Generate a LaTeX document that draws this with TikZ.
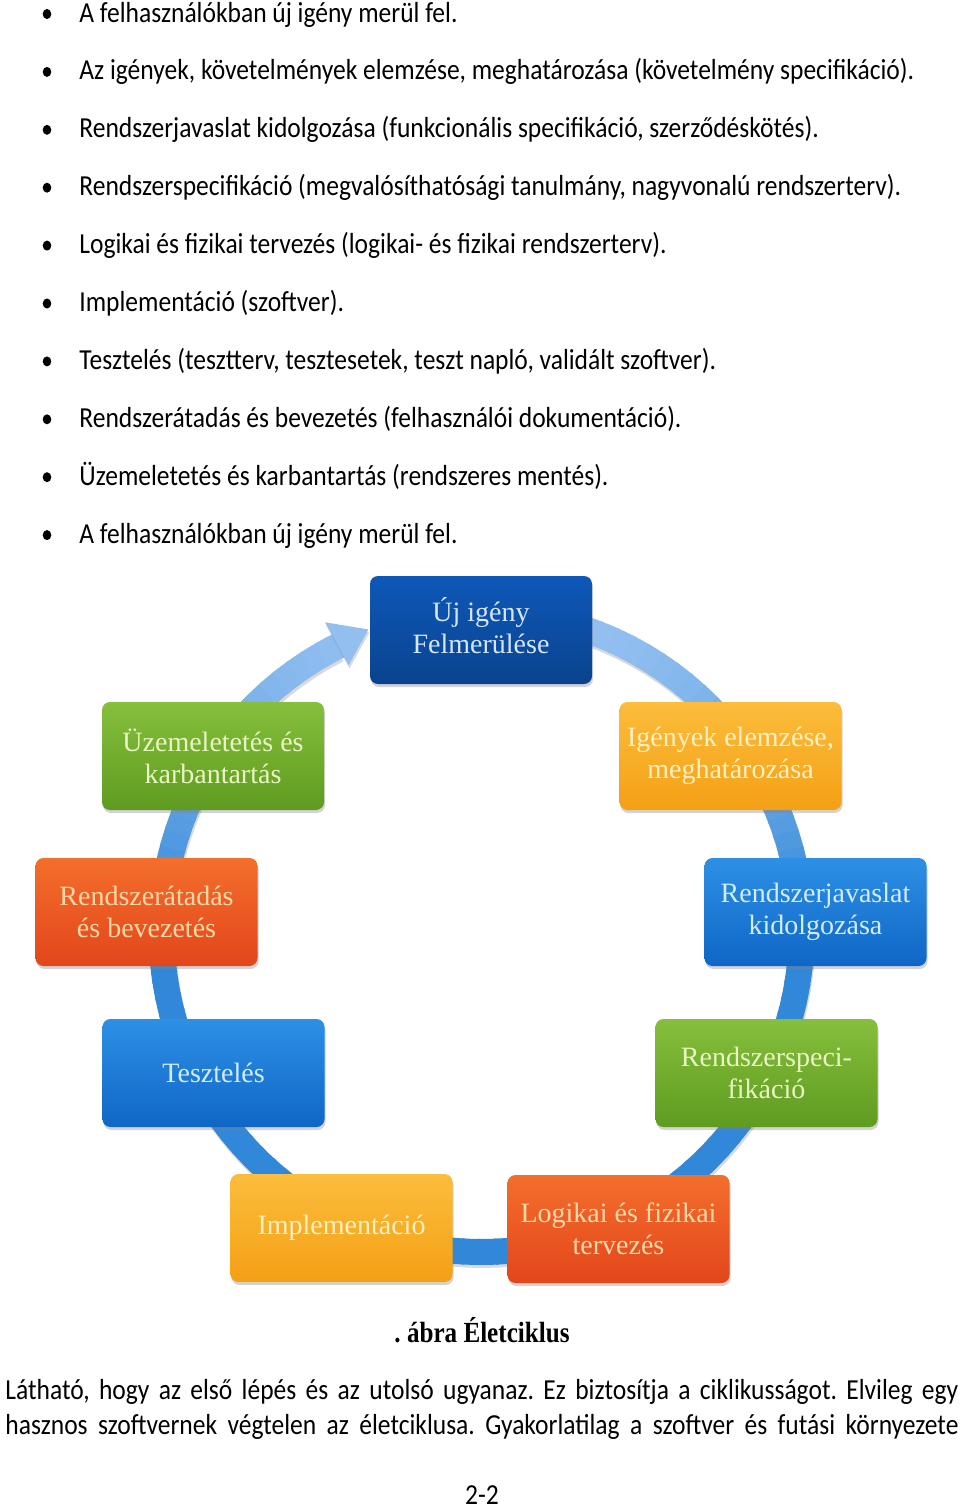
\documentclass[tikz,border=0pt]{standalone}
\usepackage{fontspec}
\setmainfont{Liberation Serif}
\newfontfamily\bodyfont{Carlito}[FakeStretch=0.88]
\newfontfamily\capfont{Liberation Serif}[FakeStretch=0.86]
\usetikzlibrary{shadows,calc}
\frenchspacing
\definecolor{ringlight}{HTML}{92BFF0}
\definecolor{ringdark}{HTML}{3288D8}
\definecolor{navyT}{HTML}{0E58B8}
\definecolor{navyB}{HTML}{0A438F}
\definecolor{navyTxt}{HTML}{D5E6FF}
\definecolor{greenT}{HTML}{86BF3C}
\definecolor{greenB}{HTML}{5E9B20}
\definecolor{greenTxt}{HTML}{EAF6C4}
\definecolor{orangeT}{HTML}{FBBD3C}
\definecolor{orangeB}{HTML}{F4A015}
\definecolor{orangeTxt}{HTML}{FFF0C2}
\definecolor{redT}{HTML}{F46E2C}
\definecolor{redB}{HTML}{E2461B}
\definecolor{redTxt}{HTML}{FFD8A8}
\definecolor{blueT}{HTML}{2D90E5}
\definecolor{blueB}{HTML}{0F66C6}
\definecolor{blueTxt}{HTML}{D2ECFF}
\begin{document}
\begin{tikzpicture}[x=0.5pt,y=-0.5pt,
  stage/.style={rounded corners=4pt, minimum width=111pt, minimum height=54pt,
    align=center, inner sep=0pt, font=\fontsize{14}{16}\selectfont,
    drop shadow={opacity=0.35, shadow xshift=0.5pt, shadow yshift=-1.5pt}},
  navybox/.style={stage, top color=navyT, bottom color=navyB, text=navyTxt},
  greenbox/.style={stage, top color=greenT, bottom color=greenB, text=greenTxt},
  orangebox/.style={stage, top color=orangeT, bottom color=orangeB, text=orangeTxt},
  redbox/.style={stage, top color=redT, bottom color=redB, text=redTxt},
  bluebox/.style={stage, top color=blueT, bottom color=blueB, text=blueTxt},
  bodytext/.style={anchor=base west, inner sep=0pt, font=\bodyfont\fontsize{14.5}{17}\selectfont},
  ringseg/.style={line width=13pt, line cap=butt},
]
\useasboundingbox (0,0) rectangle (960,1511);

% bullet list
\foreach \t [count=\i from 0] in {
  {A felhasználókban új igény merül fel.},
  {Az igények, követelmények elemzése, meghatározása (követelmény specifikáció).},
  {Rendszerjavaslat kidolgozása (funkcionális specifikáció, szerződéskötés).},
  {Rendszerspecifikáció (megvalósíthatósági tanulmány, nagyvonalú rendszerterv).},
  {Logikai és fizikai tervezés (logikai- és fizikai rendszerterv).},
  {Implementáció (szoftver).},
  {Tesztelés (tesztterv, tesztesetek, teszt napló, validált szoftver).},
  {Rendszerátadás és bevezetés (felhasználói dokumentáció).},
  {Üzemeletetés és karbantartás (rendszeres mentés).},
  {A felhasználókban új igény merül fel.}}{
  \pgfmathsetmacro\by{22+57.9*\i}
  \fill (47,\by-8) ellipse [x radius=4.3, y radius=5];
  \node[bodytext] (item\i) at (79,\by) {\t};
}

% ring
\coordinate (c) at (481.5,932);
\draw[line width=13pt, black, opacity=0.15]
  plot[domain=252:603, samples=120] ({482.5+320*cos(\x)},{935+320*sin(\x)});
\foreach \a in {252,255,...,600}{
  \pgfmathsetmacro\p{min(100,max(0,100+110*sin(\a+1.8)))}
  \draw[ringseg, color=ringdark!\p!ringlight]
    plot[domain=\a:\a+3.6, samples=3] ({481.5+320*cos(\x)},{932+320*sin(\x)});
}
\coordinate (wingout) at ({481.5+347*cos(243.2)},{932+347*sin(243.2)});
\coordinate (wingin) at ({481.5+298*cos(243.5)},{932+298*sin(243.5)});
\coordinate (tip) at ({481.5+323*cos(249.5)},{932+323*sin(249.5)});
\fill[black, opacity=0.15] ($(wingout)+(1,3)$) -- ($(tip)+(1,3)$) -- ($(wingin)+(1,3)$) -- cycle;
\fill[ringlight] (wingout) -- (tip) -- (wingin) -- cycle;

% stages
\node[navybox] (s1) at (481,630) {\raisebox{3pt}{\begin{tabular}{@{}c@{}}Új igény\\Felmerülése\end{tabular}}};
\node[orangebox] (s2) at (730.5,756) {Igények elemzése,\\meghatározása};
\node[bluebox] (s3) at (815.5,912) {Rendszerjavaslat\\kidolgozása};
\node[greenbox] (s4) at (766.5,1073) {Rendszerspeci-\\fikáció};
\node[redbox] (s5) at (618.5,1229) {Logikai és fizikai\\tervezés};
\node[orangebox] (s6) at (341.5,1228) {Implementáció};
\node[bluebox] (s7) at (213.5,1073) {Tesztelés};
\node[redbox] (s8) at (146.5,912) {Rendszerátadás\\és bevezetés};
\node[greenbox] (s9) at (213,756) {Üzemeletetés és\\karbantartás};

% caption and text
\node[anchor=base, inner sep=0pt, font=\capfont\bfseries\fontsize{14.6}{17}\selectfont] (cap) at (482,1342) {. ábra Életciklus};
\node[bodytext] (p1) at (5,1399) {\makebox[476.5pt][s]{Látható, hogy az első lépés és az utolsó ugyanaz. Ez biztosítja a ciklikusságot. Elvileg egy}};
\node[bodytext] (p2) at (5,1434) {\makebox[476.5pt][s]{hasznos szoftvernek végtelen az életciklusa. Gyakorlatilag a szoftver és futási környezete}};
\node[anchor=base, inner sep=0pt, font=\bodyfont\fontsize{14.5}{17}\selectfont] (pg) at (482,1504) {2-2};
\end{tikzpicture}
\end{document}
